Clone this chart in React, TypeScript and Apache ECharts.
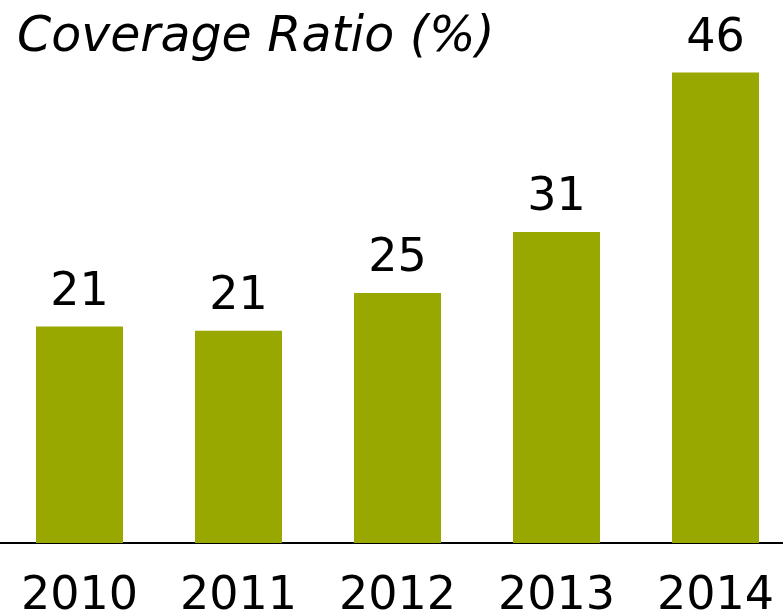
import React, { useEffect, useRef } from "react";
import * as echarts from "echarts";

const categories = ["2010", "2011", "2012", "2013", "2014"];
const coverageRatio = [21.3, 20.9, 24.6, 30.6, 46.3];
const titleText = "Coverage Ratio (%)";

export default function App() {
  const ref = useRef<HTMLDivElement>(null);
  useEffect(() => {
    if (!ref.current) return;
    const chart = echarts.init(ref.current, null, { renderer: "svg" });
    const font = "'DejaVu Sans', Verdana, sans-serif";
    chart.setOption({
      animation: false,
      title: {
        text: titleText,
        left: 12,
        top: 5,
        textStyle: {
          fontFamily: font,
          fontStyle: "italic",
          fontWeight: "normal",
          fontSize: 49,
          color: "#000",
        },
      },
      grid: {
        left: 0,
        width: 795,
        bottom: 73,
        top: 35,
        outerBoundsMode: "none",
        containLabel: false,
      },
      xAxis: {
        type: "category",
        data: categories,
        axisLine: { lineStyle: { color: "#000", width: 2 } },
        axisTick: { show: false },
        axisLabel: {
          margin: 27,
          fontFamily: font,
          fontSize: 46,
          color: "#000",
        },
      },
      yAxis: {
        type: "value",
        min: 0,
        max: 50,
        show: false,
        splitLine: { show: false },
      },
      series: [
        {
          type: "bar",
          data: coverageRatio,
          barWidth: 87,
          itemStyle: { color: "#99a800" },
          label: {
            show: true,
            position: "top",
            distance: 15,
            fontFamily: font,
            fontSize: 46,
            color: "#000",
            formatter: (p: any) => String(Math.round(p.value)),
          },
        },
      ],
    });
    return () => chart.dispose();
  }, []);
  return (
    <div
      ref={ref}
      style={{ position: "fixed", left: 0, top: 0, width: 783, height: 616 }}
    />
  );
}
